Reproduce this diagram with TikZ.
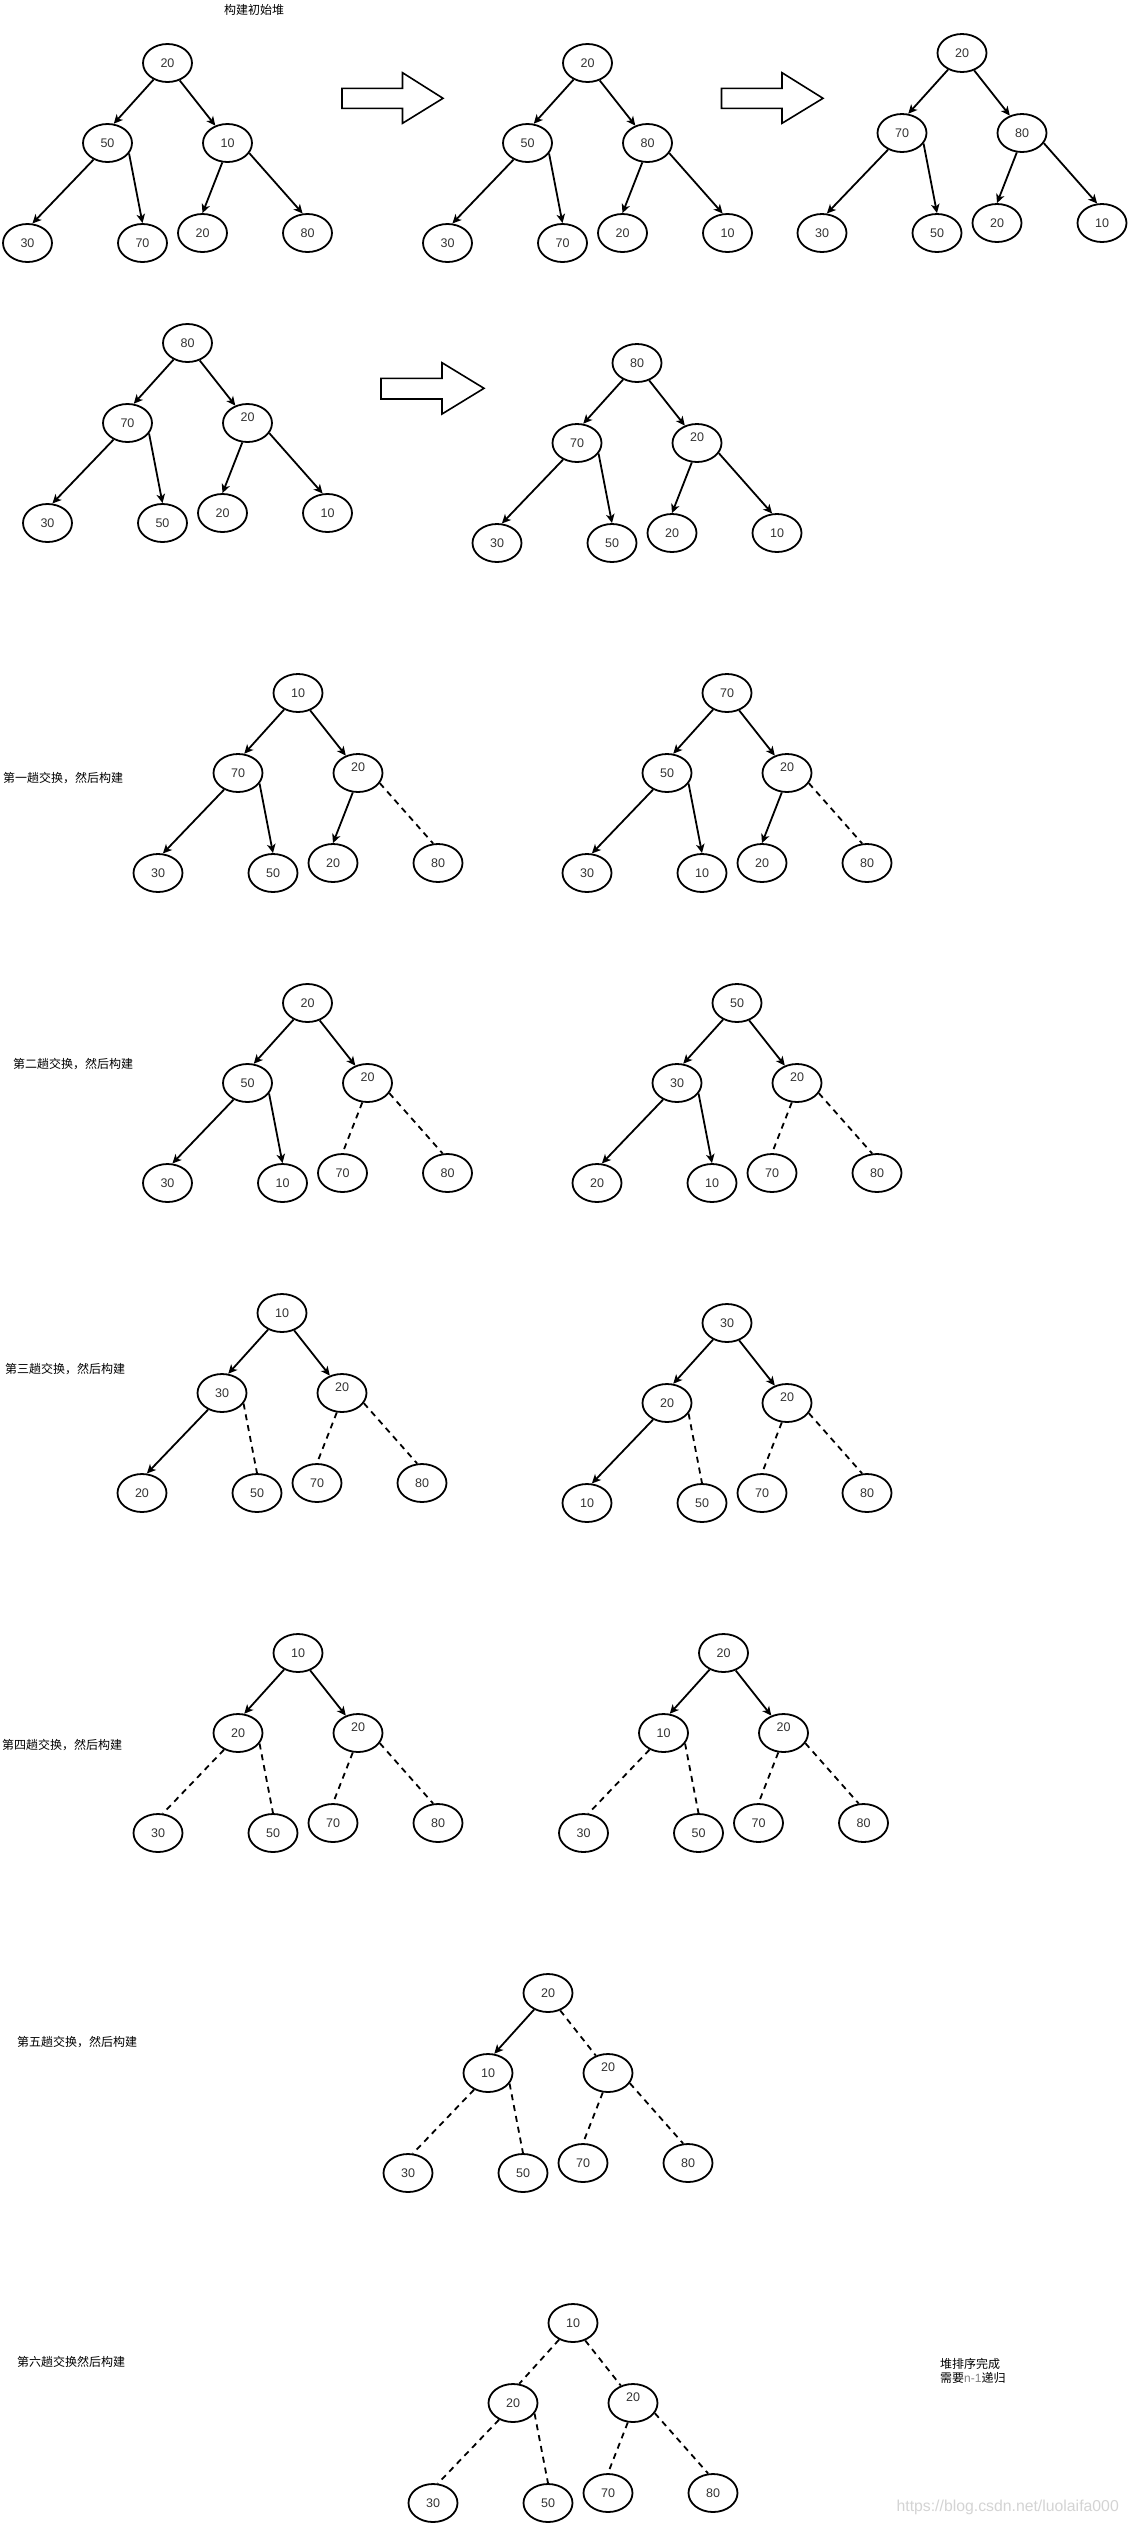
\documentclass[tikz,border=0pt]{standalone}
\usepackage{fontspec}
\setmainfont{Liberation Sans}
\newfontfamily\cjk{Noto Sans CJK SC}
\usetikzlibrary{arrows.meta,shapes.geometric}
\definecolor{numc}{HTML}{333333}
\definecolor{wmc}{HTML}{D4D4D4}
\definecolor{ngray}{HTML}{808080}
\tikzset{
  hn/.style={draw, ellipse, line width=1.8pt, minimum width=49pt, minimum height=38pt,
    inner sep=0pt, font=\fontsize{12.5}{14}\selectfont, text=numc, text height=9pt, text depth=0pt},
  hup/.style={text depth=12pt},
  arr/.style={line width=1.8pt, -{Stealth[length=9pt,width=8.5pt,inset=2.5pt]}},
  dsh/.style={line width=1.8pt, dash pattern=on 6pt off 5pt},
  lab/.style={font=\cjk\fontsize{12}{14}\selectfont, anchor=west, inner sep=0pt},
  blk/.style={line width=1.6pt, line join=miter},
}
% prefix, x, y, root, left, right, style of right node
\newcommand\heaptop[7]{%
  \node[hn] (#1r) at (#2,#3) {#4};
  \node[hn] (#1L) at ({#2-60},{#3+80}) {#5};
  \node[hn,#7] (#1R) at ({#2+60},{#3+80}) {#6};}
% prefix, x, y, LL, LR, RL, RR
\newcommand\heapleaves[7]{%
  \node[hn] (#1LL) at ({#2-140},{#3+180}) {#4};
  \node[hn] (#1LR) at ({#2-25},{#3+180}) {#5};
  \node[hn] (#1RL) at ({#2+35},{#3+170}) {#6};
  \node[hn] (#1RR) at ({#2+140},{#3+170}) {#7};}
% prefix, six edge styles
\newcommand\heapedges[7]{%
  \draw[#2] (#1r.-130) -- (#1L.72);
  \draw[#3] (#1r.-55) -- (#1R.125);
  \draw[#4] (#1L.-130) -- (#1LL.76);
  \draw[#5] (#1L.-26) -- (#1LR.north);
  \draw[#6] (#1R.-105) -- (#1RL.north);
  \draw[#7] (#1R.-25) -- (#1RR.104);}
\begin{document}
\begin{tikzpicture}[x=1pt,y=-1pt]
\fill[white] (0,0) rectangle (1129,2525);
\useasboundingbox (0,0) rectangle (1129,2525);

\node[lab,anchor=center] (title) at (254,10) {构建初始堆};

% row 1
\heaptop{a}{167.5}{63}{20}{50}{10}{}
\heapleaves{a}{167.5}{63}{30}{70}{20}{80}
\heapedges{a}{arr}{arr}{arr}{arr}{arr}{arr}

\draw[blk] (342,88.3) -- (402.5,88.3) -- (402.5,72.7) -- (443,98.3) -- (402.5,123.3) -- (402.5,108.3) -- (342,108.3) -- cycle;

\heaptop{b}{587.5}{63}{20}{50}{80}{}
\heapleaves{b}{587.5}{63}{30}{70}{20}{10}
\heapedges{b}{arr}{arr}{arr}{arr}{arr}{arr}

\draw[blk] (721.5,88.3) -- (782,88.3) -- (782,72.7) -- (823,98.3) -- (782,123.3) -- (782,108.3) -- (721.5,108.3) -- cycle;

\heaptop{c}{962}{53}{20}{70}{80}{}
\heapleaves{c}{962}{53}{30}{50}{20}{10}
\heapedges{c}{arr}{arr}{arr}{arr}{arr}{arr}

% row 2
\heaptop{d}{187.5}{343}{80}{70}{20}{hup}
\heapleaves{d}{187.5}{343}{30}{50}{20}{10}
\heapedges{d}{arr}{arr}{arr}{arr}{arr}{arr}

\draw[blk] (381,378.3) -- (442,378.3) -- (442,362.7) -- (484,388.3) -- (442,414) -- (442,399) -- (381,399) -- cycle;

\heaptop{e}{637}{363}{80}{70}{20}{hup}
\heapleaves{e}{637}{363}{30}{50}{20}{10}
\heapedges{e}{arr}{arr}{arr}{arr}{arr}{arr}

% row 3
\node[lab] (s1) at (3,778) {第一趟交换，然后构建};
\heaptop{f}{298}{693}{10}{70}{20}{hup}
\heapleaves{f}{298}{693}{30}{50}{20}{80}
\heapedges{f}{arr}{arr}{arr}{arr}{arr}{dsh}

\heaptop{g}{727}{693}{70}{50}{20}{hup}
\heapleaves{g}{727}{693}{30}{10}{20}{80}
\heapedges{g}{arr}{arr}{arr}{arr}{arr}{dsh}

% row 4
\node[lab] (s2) at (13,1064) {第二趟交换，然后构建};
\heaptop{h}{307.5}{1003}{20}{50}{20}{hup}
\heapleaves{h}{307.5}{1003}{30}{10}{70}{80}
\heapedges{h}{arr}{arr}{arr}{arr}{dsh}{dsh}

\heaptop{i}{737}{1003}{50}{30}{20}{hup}
\heapleaves{i}{737}{1003}{20}{10}{70}{80}
\heapedges{i}{arr}{arr}{arr}{arr}{dsh}{dsh}

% row 5
\node[lab] (s3) at (5,1369) {第三趟交换，然后构建};
\heaptop{j}{282}{1313}{10}{30}{20}{hup}
\heapleaves{j}{282}{1313}{20}{50}{70}{80}
\heapedges{j}{arr}{arr}{arr}{dsh}{dsh}{dsh}

\heaptop{k}{727}{1323}{30}{20}{20}{hup}
\heapleaves{k}{727}{1323}{10}{50}{70}{80}
\heapedges{k}{arr}{arr}{arr}{dsh}{dsh}{dsh}

% row 6
\node[lab] (s4) at (2,1745) {第四趟交换，然后构建};
\heaptop{l}{298}{1653}{10}{20}{20}{hup}
\heapleaves{l}{298}{1653}{30}{50}{70}{80}
\heapedges{l}{arr}{arr}{dsh}{dsh}{dsh}{dsh}

\heaptop{m}{723.5}{1653}{20}{10}{20}{hup}
\heapleaves{m}{723.5}{1653}{30}{50}{70}{80}
\heapedges{m}{arr}{arr}{dsh}{dsh}{dsh}{dsh}

% row 7
\node[lab] (s5) at (17,2042) {第五趟交换，然后构建};
\heaptop{n}{548}{1993}{20}{10}{20}{hup}
\heapleaves{n}{548}{1993}{30}{50}{70}{80}
\heapedges{n}{arr}{dsh}{dsh}{dsh}{dsh}{dsh}

% row 8
\node[lab] (s6) at (17,2362) {第六趟交换然后构建};
\heaptop{o}{573}{2323}{10}{20}{20}{hup}
\heapleaves{o}{573}{2323}{30}{50}{70}{80}
\heapedges{o}{dsh}{dsh}{dsh}{dsh}{dsh}{dsh}

\node[lab,align=left] (done) at (940,2371) {堆排序完成\\需要{\rmfamily\color{ngray}n-1}递归};

\node[font=\fontsize{15.8}{18}\selectfont, text=wmc, anchor=east, inner sep=0pt] (wmk) at (1119,2507) {https://blog.csdn.net/luolaifa000};
\end{tikzpicture}
\end{document}
